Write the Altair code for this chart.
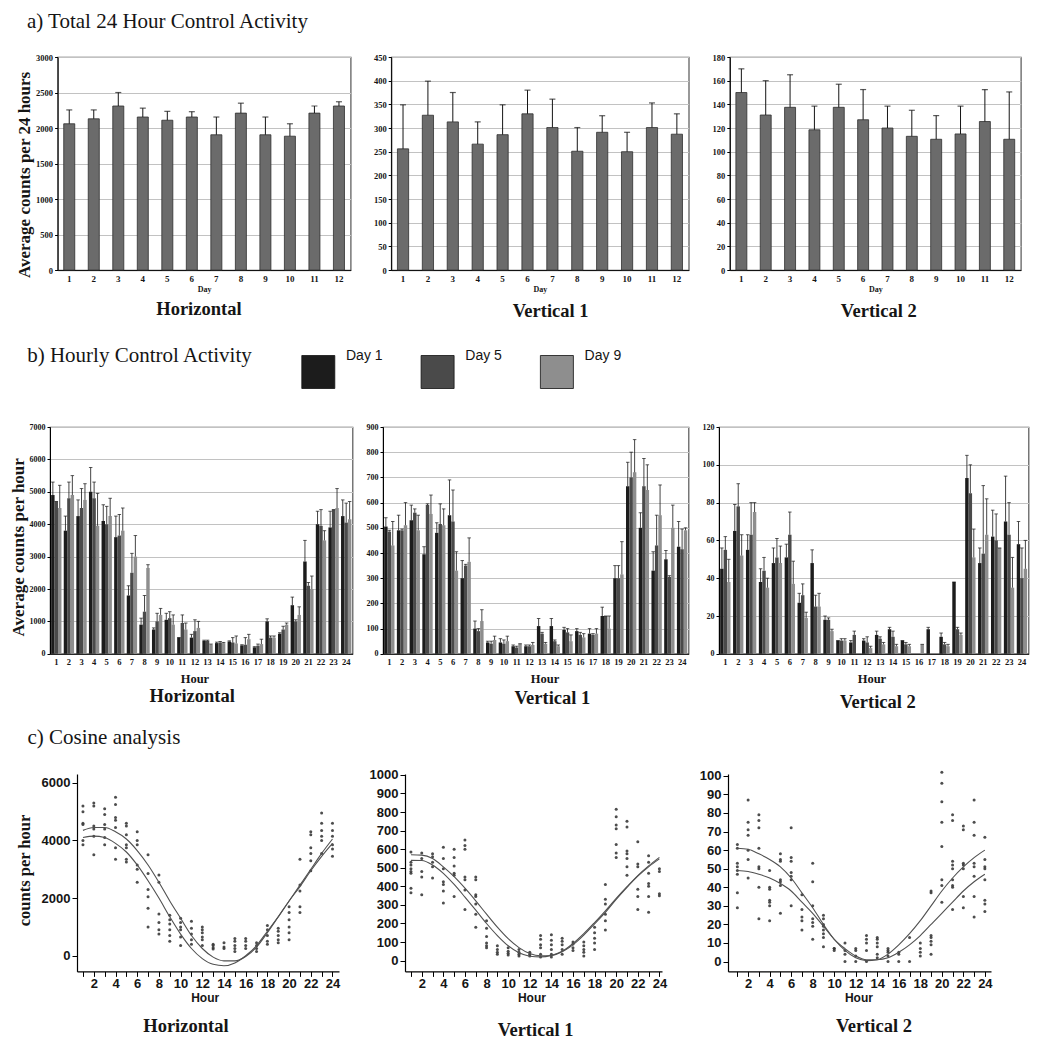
import altair as alt
import pandas as pd

SERIF = "Liberation Serif"
SANS = "Liberation Sans"
INK = "#151515"

# ---------------- labels ----------------
row_titles = ["a) Total 24 Hour Control Activity", "b) Hourly Control Activity", "c) Cosine analysis"]
panel_names = ["Horizontal", "Vertical 1", "Vertical 2"]

# ---------------- a) Total 24 hour control activity ----------------
days = list(range(1, 13))
a_h_mean = [2060, 2130, 2310, 2155, 2110, 2155, 1905, 2210, 1905, 1885, 2210, 2310]
a_h_upper = [2255, 2255, 2500, 2280, 2235, 2230, 2155, 2350, 2155, 2060, 2310, 2370]
a_v1_mean = [256, 327, 313, 266, 286, 330, 301, 251, 291, 250, 301, 287]
a_v1_upper = [349, 399, 375, 313, 349, 380, 361, 301, 326, 291, 353, 330]
a_v2_mean = [150, 131, 137.5, 118.5, 137.5, 127, 120, 113, 110.5, 115, 125.5, 110.5]
a_v2_upper = [170, 160, 165, 138.5, 157, 152.5, 138.5, 135, 130.5, 138.5, 152.5, 150.5]

# ---------------- b) Hourly control activity ----------------
hours = list(range(1, 25))
day_labels = ["Day 1", "Day 5", "Day 9"]
day_colors = ["#1c1c1c", "#4a4a4a", "#8e8e8e"]

b_h_d1 = [4900, 3800, 4250, 5000, 4100, 3600, 1800, 900, 750, 1050, 500, 500, 400, 330, 380, 260, 200, 1000, 620, 1500, 2850, 4000, 3900, 4250]
b_h_d1_up = [5300, 4250, 4750, 5750, 4600, 4250, 2100, 1100, 800, 1250, 500, 600, 420, 360, 400, 280, 220, 1080, 650, 1750, 3500, 4400, 4400, 4750]
b_h_d5 = [4700, 4800, 4500, 4800, 4000, 3650, 2500, 1300, 1000, 1100, 950, 700, 400, 350, 350, 280, 250, 500, 750, 1000, 2100, 3950, 4450, 4050]
b_h_d5_up = [4700, 5300, 5100, 5300, 4550, 4300, 3100, 1800, 1250, 1300, 1200, 1050, 420, 380, 500, 500, 300, 550, 850, 1050, 2200, 4450, 4450, 4650]
b_h_d9 = [4500, 4900, 4750, 3950, 4250, 3800, 3000, 2650, 1200, 900, 750, 800, 280, 330, 320, 450, 300, 500, 900, 1200, 2000, 3500, 4500, 4150]
b_h_d9_up = [5200, 5500, 5250, 4950, 4800, 4500, 3650, 2750, 1400, 1200, 950, 1000, 300, 350, 550, 600, 450, 550, 950, 1450, 2400, 3800, 5100, 4700]

b_v1_d1 = [505, 490, 530, 395, 480, 550, 300, 100, 45, 45, 30, 30, 110, 110, 95, 90, 80, 150, 300, 665, 500, 330, 375, 425]
b_v1_d1_up = [540, 550, 590, 425, 520, 690, 370, 130, 50, 60, 35, 35, 140, 140, 105, 100, 100, 185, 350, 760, 560, 405, 410, 525]
b_v1_d5 = [485, 490, 560, 590, 515, 525, 350, 90, 40, 40, 25, 30, 80, 50, 85, 75, 75, 150, 300, 700, 665, 430, 305, 415]
b_v1_d5_up = [490, 495, 575, 595, 595, 650, 355, 100, 50, 55, 30, 35, 85, 55, 100, 85, 80, 150, 350, 800, 775, 550, 310, 495]
b_v1_d9 = [430, 510, 490, 555, 510, 330, 365, 130, 55, 50, 40, 35, 40, 30, 50, 65, 80, 100, 315, 720, 650, 550, 500, 490]
b_v1_d9_up = [525, 600, 550, 630, 575, 405, 460, 175, 70, 70, 40, 45, 45, 35, 75, 80, 100, 150, 445, 850, 750, 670, 590, 500]

b_v2_d1 = [45, 65, 55, 38, 48, 51, 27, 48, 18, 7, 6, 7, 10, 13, 7, 0, 13, 9, 38, 93, 48, 62, 70, 58]
b_v2_d1_up = [56, 79, 63, 45, 56, 58, 32, 55, 20, 7, 7, 8, 12, 14, 7, 0, 14, 11, 38, 105, 56, 76, 94, 70]
b_v2_d5 = [55, 78, 63, 44, 51, 63, 31, 25, 18, 7, 10, 6, 8, 9, 5, 0, 0, 5, 13, 85, 53, 60, 63, 40]
b_v2_d5_up = [62, 90, 80, 51, 61, 75, 37, 31, 19, 8, 12, 9, 9, 12, 6, 0, 0, 6, 14, 100, 89, 74, 80, 56]
b_v2_d9 = [38, 52, 75, 35, 48, 37, 19, 25, 12, 7, 0, 3, 5, 4, 4, 5, 0, 4, 10, 51, 63, 56, 35, 45]
b_v2_d9_up = [50, 63, 80, 40, 57, 49, 22, 32, 13, 8, 0, 4, 6, 5, 5, 5, 0, 5, 11, 66, 82, 56, 51, 60]

# ---------------- c) Cosine analysis ----------------
c_h_pts = [
    [5200, 5000, 4600, 4550, 4000, 3850], [5300, 5200, 4500, 4400, 4150, 3500],
    [5100, 4900, 4550, 4400, 4100, 3850], [5500, 5250, 4800, 4700, 4450, 3750, 3350],
    [4600, 4500, 4200, 3850, 3750, 3350, 3250], [4300, 4000, 3850, 3150, 3000, 2550],
    [3500, 2850, 2300, 2050, 1650, 1000], [2800, 2550, 1450, 1150, 900, 750],
    [1400, 1250, 1100, 900, 700, 500], [1300, 1150, 1000, 900, 650, 350],
    [1200, 950, 750, 550, 400], [1000, 900, 800, 650, 550, 350],
    [400, 350, 280, 230], [450, 300, 250],
    [600, 500, 350, 250, 150], [600, 500, 350, 250],
    [450, 350, 250, 150], [1050, 900, 700, 500, 400],
    [950, 850, 700, 550, 450], [1700, 1500, 1250, 1000, 800, 550],
    [3350, 2450, 2250, 1700, 1500], [4300, 4200, 3750, 3550, 3300, 2950],
    [4950, 4600, 4350, 4150, 4000, 3550], [4600, 4350, 4150, 3850, 3700, 3450],
]
c_h_fitA = [4350, 4450, 4450, 4300, 4050, 3650, 3150, 2550, 1900, 1300, 700, 250, -50, -180, -180, -30, 300, 800, 1350, 1900, 2450, 3000, 3550, 4050]
c_h_fitB = [4100, 4150, 4100, 3900, 3600, 3150, 2600, 2000, 1350, 750, 250, -100, -300, -350, -250, 0, 350, 850, 1350, 1900, 2400, 2950, 3450, 3900]

c_v1_pts = [
    [585, 530, 515, 495, 480, 470, 390, 365], [580, 550, 480, 450, 355],
    [575, 560, 530, 505, 445], [610, 550, 495, 425, 410, 375, 310],
    [600, 555, 510, 470, 460, 345], [650, 620, 600, 450, 435, 380, 275],
    [450, 435, 355, 345, 305, 250, 180], [215, 175, 130, 95, 80, 70],
    [80, 60, 45, 35], [70, 50, 40, 30],
    [60, 45, 35, 25], [45, 35, 25],
    [135, 115, 85, 70, 35, 20], [140, 110, 85, 60, 35, 20],
    [120, 105, 85, 60, 35], [100, 90, 70, 55],
    [100, 80, 60, 45, 25], [180, 150, 120, 95, 60],
    [410, 330, 305, 250, 215, 165], [815, 775, 730, 710, 625, 580, 555],
    [750, 720, 590, 575, 550, 505, 460], [640, 520, 505, 385, 345, 275],
    [565, 530, 470, 415, 400, 345, 260], [495, 480, 360, 350],
]
c_v1_fitA = [570, 568, 550, 505, 452, 390, 322, 250, 180, 118, 70, 38, 26, 28, 48, 85, 137, 198, 260, 330, 395, 455, 505, 548]
c_v1_fitB = [540, 539, 515, 470, 410, 342, 272, 200, 135, 80, 42, 24, 20, 28, 50, 92, 145, 205, 268, 335, 398, 458, 510, 556]

c_v2_pts = [
    [63, 61, 53, 51, 49, 47, 37, 29], [87, 75, 71, 68, 60, 55, 45],
    [79, 76, 72, 61, 51, 50, 40, 23], [49, 40, 39, 33, 32, 30, 22],
    [58, 55, 54, 44, 43, 41, 26], [72, 56, 54, 48, 46, 44, 30],
    [36, 28, 24, 22, 17], [53, 43, 30, 23, 21, 19, 12],
    [25, 23, 20, 19, 17, 15, 13, 8], [7, 7, 6],
    [10, 6, 4, 0], [7, 6, 3, 0],
    [14, 12, 10, 6, 0], [13, 12, 10, 8, 4, 2],
    [7, 6, 5, 3, 0], [5, 4, 0],
    [13, 0], [10, 7, 5, 3],
    [38, 37, 14, 13, 11, 9, 4], [102, 96, 86, 75, 62, 44, 41, 32],
    [79, 76, 54, 52, 50, 44, 41, 40, 28], [73, 71, 53, 52, 50, 35, 29],
    [87, 75, 68, 53, 51, 46, 35, 24], [67, 55, 51, 50, 44, 33, 31, 27],
]
c_v2_fitA = [61, 60.5, 58, 55, 51, 45, 37, 29, 20, 12, 6, 2, 0.5, 1, 4, 9, 15, 22, 30, 38, 45, 51, 56, 60]
c_v2_fitB = [49, 48.5, 47, 45, 42, 38, 32, 26, 19, 12, 7, 3, 1, 1, 2, 5, 9, 14, 20, 26, 32, 38, 43, 47]


# ---------------- helpers ----------------
def text_layer(txt, x, y, size, weight="normal", font=SERIF, align="left", baseline="alphabetic"):
    return alt.Chart(pd.DataFrame({"t": [txt]})).mark_text(
        align=align, baseline=baseline, font=font, fontSize=size, fontWeight=weight, color=INK
    ).encode(text="t:N", x=alt.value(x), y=alt.value(y))


FRAME = alt.ViewBackground(stroke="#555555", strokeWidth=1.2)
NOFRAME = alt.ViewBackground(stroke="transparent")


def spacer(w, h, y1, y2):
    # invisible guide that fixes where each row starts on the page
    return alt.Chart(pd.DataFrame({"t": [0]})).mark_rule(strokeOpacity=0).encode(
        x=alt.value(0), y=alt.value(y1), y2=alt.value(y2)).properties(width=w, height=h, view=NOFRAME)


def bar_y_axis(ymax, step, ytitle, tx, ty, label_size):
    ax = dict(values=list(range(0, ymax + 1, step)), format="d", grid=True, gridColor="#c2c2c2", gridWidth=1,
              domainColor="#000", tickColor="#000", tickSize=3, labelFont=SERIF, labelFontSize=label_size,
              labelFontWeight="bold", labelColor=INK, labelPadding=2)
    if ytitle:
        ax.update(title=ytitle, titleFont=SERIF, titleFontSize=17, titleFontWeight="bold", titleColor=INK,
                  titleAngle=-90, titleAlign="center", titleBaseline="middle", titleX=tx, titleY=ty)
    else:
        ax.update(title=None)
    return alt.Axis(**ax)


# ---------------- row a ----------------
A_H = 213.1


def panel_a(mean, upper, w, ymax, step, name, sub_x, sub_y, ytitle=None, extra=()):
    df = pd.DataFrame({"Day": days, "mean": mean, "upper": upper})
    x = alt.X("Day:O", scale=alt.Scale(paddingInner=0.55, paddingOuter=0.25),
              axis=alt.Axis(title="Day", labelAngle=0, ticks=False, domainColor="#000", labelOverlap=False,
                            labelFont=SERIF, labelFontSize=9, labelFontWeight="bold", labelColor=INK,
                            labelPadding=4, titleFont=SERIF, titleFontSize=8, titleFontWeight="bold",
                            titleColor=INK, titleY=19.7, titleBaseline="middle"))
    yax = bar_y_axis(ymax, step, ytitle, -33.6, 117.4, 8.5)
    ys = alt.Scale(domain=[0, ymax], nice=False)
    base = alt.Chart(df).encode(x=x)
    bars = base.mark_bar(color="#6b6b6b", stroke="#2e2e2e", strokeWidth=0.8).encode(
        y=alt.Y("mean:Q", scale=ys, axis=yax))
    err = base.mark_rule(color=INK, strokeWidth=1).encode(
        y=alt.Y("mean:Q", scale=ys, axis=yax), y2="upper:Q")
    cap = base.mark_tick(color=INK, thickness=1.2, size=6).encode(y=alt.Y("upper:Q", scale=ys, axis=yax))
    sub = text_layer(name, sub_x, sub_y, 18.5, "bold", align="center", baseline="middle")
    return alt.layer(bars, err, cap, sub, *extra).properties(width=w, height=A_H, view=FRAME)


a1 = panel_a(a_h_mean, a_h_upper, 293, 3000, 500, panel_names[0], 141.3, 251.5,
             ytitle="Average counts per 24 hours",
             extra=[text_layer(row_titles[0], -30.7, -29.5, 21)])
a2 = panel_a(a_v1_mean, a_v1_upper, 297.5, 450, 50, panel_names[1], 159.4, 253.5)
a3 = panel_a(a_v2_mean, a_v2_upper, 291, 180, 20, panel_names[2], 149, 253.5)
rowA = alt.hconcat(spacer(7.9, A_H, -48.1, 273.9), a1, a2, a3, spacing=40.6, bounds="flush")

# ---------------- row b ----------------
B_H = 226.8
color_enc = alt.Color("Day:N", scale=alt.Scale(domain=day_labels, range=day_colors), legend=None)


def panel_b(means, uppers, ymax, step, hour_x, ytitle=None):
    rows = []
    for lab, m, u in zip(day_labels, means, uppers):
        for h, mv, uv in zip(hours, m, u):
            rows.append({"Hour": h, "Day": lab, "mean": mv, "upper": uv})
    df = pd.DataFrame(rows)
    x = alt.X("Hour:O", scale=alt.Scale(paddingInner=0.18, paddingOuter=0.09),
              axis=alt.Axis(title="Hour", labelAngle=0, ticks=False, domainColor="#000", labelOverlap=False,
                            labelFont=SERIF, labelFontSize=8.5, labelFontWeight="bold", labelColor=INK,
                            labelPadding=4, titleFont=SERIF, titleFontSize=12.5, titleFontWeight="bold",
                            titleColor=INK, titleX=hour_x, titleY=24.7, titleBaseline="middle",
                            titleAlign="center"))
    xo = alt.XOffset("Day:N", scale=alt.Scale(domain=day_labels, paddingInner=0, paddingOuter=0))
    yax = bar_y_axis(ymax, step, ytitle, -31.6, 119.8, 8)
    ys = alt.Scale(domain=[0, ymax], nice=False)
    base = alt.Chart(df).encode(x=x, xOffset=xo)
    bars = base.mark_bar().encode(y=alt.Y("mean:Q", scale=ys, axis=yax), color=color_enc)
    nz = base.transform_filter("datum.mean > 0")
    err = nz.mark_rule(color=INK, strokeWidth=0.8).encode(
        y=alt.Y("mean:Q", scale=ys, axis=yax), y2="upper:Q")
    cap = nz.mark_tick(color=INK, thickness=1, size=3.5).encode(y=alt.Y("upper:Q", scale=ys, axis=yax))
    return alt.layer(bars, err, cap)


leg_df = pd.DataFrame({"Day": day_labels})
leg_x = alt.X("Day:N", scale=alt.Scale(type="point", domain=day_labels, range=[268.3, 506.9], padding=0),
              axis=None)
leg_sq = alt.Chart(leg_df).mark_square(size=1089, opacity=1, stroke="#111", strokeWidth=0.8).encode(
    x=leg_x, y=alt.value(-55), color=color_enc)
leg_tx = alt.Chart(leg_df).mark_text(align="left", baseline="alphabetic", dx=27.7, font=SANS,
                                     fontSize=14, color=INK).encode(x=leg_x, y=alt.value(-67), text="Day:N")

b1 = alt.layer(
    panel_b([b_h_d1, b_h_d5, b_h_d9], [b_h_d1_up, b_h_d5_up, b_h_d9_up], 7000, 1000, 144.4,
            ytitle="Average counts per hour"),
    leg_sq, leg_tx,
    text_layer(row_titles[1], -22.8, -64.8, 21),
    text_layer(panel_names[0], 142.2, 268.7, 18.5, "bold", align="center", baseline="middle"),
).resolve_scale(x="independent").properties(width=302.5, height=B_H, view=FRAME)

b2 = alt.layer(
    panel_b([b_v1_d1, b_v1_d5, b_v1_d9], [b_v1_d1_up, b_v1_d5_up, b_v1_d9_up], 900, 100, 161.5),
    text_layer(panel_names[1], 169.4, 271.3, 18.5, "bold", align="center", baseline="middle"),
).properties(width=305.5, height=B_H, view=FRAME)

b3 = alt.layer(
    panel_b([b_v2_d1, b_v2_d5, b_v2_d9], [b_v2_d1_up, b_v2_d5_up, b_v2_d9_up], 120, 20, 152.4),
    text_layer(panel_names[2], 158.9, 274.6, 18.5, "bold", align="center", baseline="middle"),
).properties(width=309.5, height=B_H, view=FRAME)
rowB = alt.hconcat(spacer(10.6, B_H, -84.4, 285.6), b1, b2, b3, spacing=30, bounds="flush")

# ---------------- row c ----------------
C_H = 197.4


def panel_c(pts, fitA, fitB, w, xdom, ydom, yvals, name, sub_x, sub_y, hour_x, ytitle=None, extra=()):
    pdf = pd.DataFrame([{"Hour": h, "count": v} for h, vals in zip(hours, pts) for v in vals])
    cdf = pd.DataFrame([{"Hour": h, "count": v, "curve": c}
                        for c, vals in (("A", fitA), ("B", fitB)) for h, v in zip(hours, vals)])
    xax = alt.Axis(title="Hour", values=hours, labelExpr="datum.value % 2 == 0 ? datum.label : ''",
                   grid=False, domainColor="#000", domainWidth=1.2, tickColor="#000", tickSize=5,
                   labelFont=SANS, labelFontSize=13, labelFontWeight="bold", labelColor=INK, labelPadding=1,
                   labelOverlap=False, labelFlush=False, titleFont=SANS, titleFontSize=12,
                   titleFontWeight="bold", titleColor=INK, titleX=hour_x, titleY=26,
                   titleBaseline="middle", titleAlign="center")
    yd = dict(values=yvals, format="d", grid=False, domainColor="#000", domainWidth=1.2, tickColor="#000",
              tickSize=5, labelFont=SANS, labelFontSize=13, labelFontWeight="bold", labelColor=INK,
              labelPadding=2, labelOverlap=False, labelFlush=False)
    if ytitle:
        yd.update(title=ytitle, titleFont=SERIF, titleFontSize=16.5, titleFontWeight="bold", titleColor=INK,
                  titleAngle=-90, titleAlign="center", titleBaseline="middle", titleX=-52.5, titleY=96)
    else:
        yd.update(title=None)
    yax = alt.Axis(**yd)
    xs = alt.Scale(domain=xdom, nice=False, zero=False)
    ys = alt.Scale(domain=ydom, nice=False, zero=False)
    xenc = alt.X("Hour:Q", scale=xs, axis=xax)
    yenc = alt.Y("count:Q", scale=ys, axis=yax)
    points = alt.Chart(pdf).mark_circle(size=9, color="#3a3a3a", opacity=0.9).encode(x=xenc, y=yenc)
    lines = alt.Chart(cdf).mark_line(color="#505050", strokeWidth=1.1, interpolate="monotone").encode(
        x=xenc, y=yenc, detail="curve:N")
    sub = text_layer(name, sub_x, sub_y, 18.5, "bold", align="center", baseline="middle")
    return alt.layer(points, lines, sub, *extra).properties(width=w, height=C_H, view=NOFRAME)


c1 = panel_c(c_h_pts, c_h_fitA, c_h_fitB, 262, [0.45, 24.6], [-545, 6307], [0, 2000, 4000, 6000],
             panel_names[0], 108.9, 252, 127.7, ytitle="counts per hour",
             extra=[text_layer(row_titles[2], -49.5, -30.5, 21)])
c2 = panel_c(c_v1_pts, c_v1_fitA, c_v1_fitB, 257, [0.45, 24.24], [-58, 1005], list(range(0, 1001, 100)),
             panel_names[1], 130.7, 255.5, 126.4)
c3 = panel_c(c_v2_pts, c_v2_fitA, c_v2_fitB, 263, [0.13, 24.57], [-5.3, 101], list(range(0, 101, 10)),
             panel_names[2], 146, 252, 130.4)
rowC = alt.hconcat(spacer(1.3, C_H, -49.05, 0), c1, c2, c3, spacing=66, bounds="flush")

chart = alt.vconcat(rowA, rowB, rowC, spacing=10).properties(padding=0).configure(
    font=SERIF).configure_view(stroke="transparent")

chart.save("out.html", embed_options={"renderer": "svg", "actions": False})
